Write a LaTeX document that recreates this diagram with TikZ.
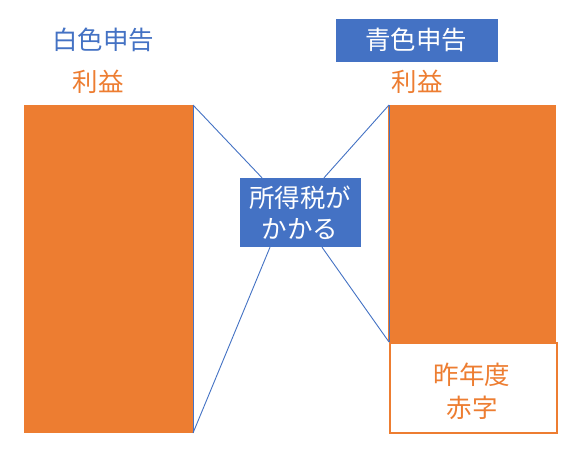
\documentclass[tikz,border=0pt]{standalone}
\usepackage{fontspec}
\newfontfamily\cjk{Noto Sans CJK JP}
\definecolor{oblue}{HTML}{4472C4}
\definecolor{oorange}{HTML}{ED7D31}
\begin{document}
\begin{tikzpicture}[x=1pt,y=-1pt,
  lbl/.style={font=\cjk\fontsize{25.5}{30}\selectfont, inner sep=0pt, align=center},
  conn/.style={draw=oblue, line width=0.9pt}]
\useasboundingbox (0,0) rectangle (585,453);
\fill[white] (0,0) rectangle (585,453);
% bars
\fill[oorange] (24,105) rectangle (193,433);
\coordinate (Ltop) at (193,105);
\coordinate (Lbot) at (193,433);
\fill[oorange] (388,105) rectangle (556,342);
\node[draw=oorange, line width=1.5pt, fill=white, minimum width=167pt, minimum height=90pt, anchor=north west, inner sep=0pt] (deficit) at (389,342) {};
\node[lbl, text=oorange] (deftext) at (472,391) {昨年度\\[3pt]赤字};
\coordinate (Rtop) at (389,105);
\coordinate (Rbot) at (389,342);
% middle box
\node[fill=oblue, minimum width=121pt, minimum height=69pt, inner sep=0pt] (tax) at (300,212.5) {};
\node[lbl, text=white] (taxtext) at (300,212.5) {所得税が\\[1pt]かかる};
% connectors
\draw[conn] (Ltop) -- (Lbot);
\draw[conn] (Rtop) -- (Rbot);
\draw[conn] (Ltop) -- (tax.north west -| 262,0);
\draw[conn] (Lbot) -- (tax.south west -| 270,0);
\draw[conn] (Rtop) -- (tax.north east -| 324,0);
\draw[conn] (Rbot) -- (tax.south east -| 322,0);
% titles
\node[lbl, text=oblue] (white) at (103,40) {白色申告};
\node[lbl, text=oorange] (lprofit) at (98,82) {利益};
\node[fill=oblue, minimum width=162pt, minimum height=43pt, inner sep=0pt] (bluebox) at (417,40.5) {};
\node[lbl, text=white] (blue) at (416,40) {青色申告};
\node[lbl, text=oorange] (rprofit) at (417,82) {利益};
\end{tikzpicture}
\end{document}
